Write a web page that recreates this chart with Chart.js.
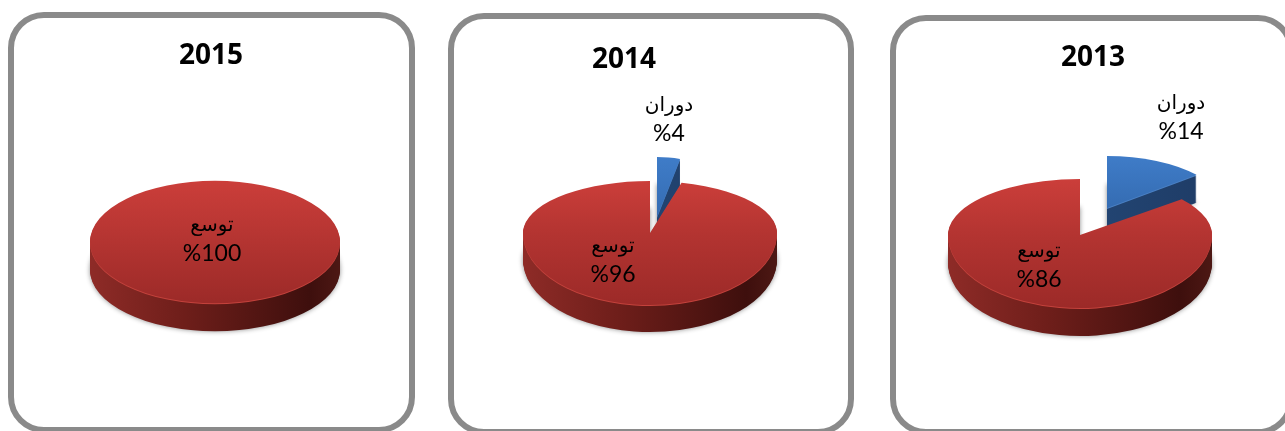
<!DOCTYPE html>
<html>
<head>
<meta charset="utf-8">
<script src="https://cdn.jsdelivr.net/npm/chart.js@4/dist/chart.umd.min.js"></script>
<style>
    html, body { margin: 0; width: 1285px; height: 431px; overflow: hidden; background: #fff; }
    .marco { position: absolute; box-sizing: border-box; border: 6px solid #8a8a8a; border-radius: 36px; background: #fff; }
    canvas { position: absolute; }
</style>
</head>
<body>
<div class="marco" style="left:8px;top:12px;width:407px;height:421px"></div>
<div class="marco" style="left:448px;top:13px;width:406px;height:422px"></div>
<div class="marco" style="left:890px;top:15px;width:404px;height:420px"></div>
<canvas id="pie2015" width="400" height="400" style="left:15px;top:42px;width:400px;height:400px"></canvas>
<canvas id="pie2014" width="400" height="400" style="left:450px;top:33px;width:400px;height:400px"></canvas>
<canvas id="pie2013" width="400" height="400" style="left:880px;top:35px;width:400px;height:400px"></canvas>

<script>
// Values
const categories = ['دوران', 'توسع'];
const values2015 = [0, 100];
const values2014 = [4, 96];
const values2013 = [14, 86];

// top face gradient, side gradient, one list per category
const faceColors = [['#3f7cc8', '#2a5c9c'], ['#cb3e3a', '#9c2a28']];
const sideColors = [
    ['#2a5488', '#234674', '#1f3d68', '#1d3a62'],
    ['#8e2b27', '#6e1e1a', '#3e0f0d', '#4d1814']
];
const rimColors = ['#4a80c4', '#c4423c'];

const TITLE_FONT = "bold 28px 'Open Sans', sans-serif";
const NAME_FONT = "20px 'DejaVu Sans', sans-serif";
const VALUE_FONT = "23px 'Lato', sans-serif";

// Draws one arc squashed into an ellipse, the near half deeper than the far half (fake perspective)
function paintArc(chart, arc, slice, fill, dy) {
    const ctx = chart.ctx;
    const cx = arc.x, cy = arc.y;
    const original = arc.options;
    arc.options = Object.assign({}, original, { backgroundColor: fill, borderWidth: 0 });

    [[0, cy, slice.far], [cy, chart.height, slice.near]].forEach(([from, to, squash]) => {
        ctx.save();
        ctx.translate(slice.dx, slice.dy + dy);
        ctx.beginPath();
        ctx.rect(-40, from, chart.width + 80, to - from);
        ctx.clip();
        ctx.translate(cx, cy);
        ctx.scale(slice.wide, squash);
        ctx.translate(-cx, -cy);
        arc.draw(ctx);
        ctx.restore();
    });
    arc.options = original;
}

const tiltPie = {
    id: 'tiltPie',
    beforeDatasetsDraw(chart) {
        const ctx = chart.ctx;
        const cfg = chart.options.plugins.tiltPie;
        const arcs = chart.getDatasetMeta(0).data;

        arcs.forEach((arc, i) => {
            if (arc.circumference === 0) return;
            const slice = cfg.slices[i];
            const R = arc.outerRadius;

            const side = ctx.createLinearGradient(arc.x - R, 0, arc.x + R, 0);
            side.addColorStop(0, sideColors[i][0]);
            side.addColorStop(0.38, sideColors[i][1]);
            side.addColorStop(0.88, sideColors[i][2]);
            side.addColorStop(1, sideColors[i][3]);

            const face = ctx.createLinearGradient(0, arc.y - R, 0, arc.y + R);
            face.addColorStop(0, faceColors[i][0]);
            face.addColorStop(1, faceColors[i][1]);

            // soft shadow under the deepest layer
            ctx.save();
            ctx.shadowColor = 'rgba(0,0,0,0.45)';
            ctx.shadowBlur = 5;
            paintArc(chart, arc, slice, side, cfg.depth);
            ctx.restore();

            for (let d = cfg.depth - 1; d > 1; d--) {
                paintArc(chart, arc, slice, side, d);
            }
            paintArc(chart, arc, slice, rimColors[i], 1);
            paintArc(chart, arc, slice, face, 0);
        });
        return false;
    },
    afterDraw(chart) {
        const ctx = chart.ctx;
        const cfg = chart.options.plugins.tiltPie;
        const left = chart.canvas.offsetLeft;
        const top = chart.canvas.offsetTop;
        const values = chart.data.datasets[0].data;

        ctx.save();
        ctx.fillStyle = '#000';
        ctx.textAlign = 'center';
        ctx.textBaseline = 'middle';

        ctx.font = TITLE_FONT;
        ctx.fillText(cfg.year, cfg.yearAt[0] - left, cfg.yearAt[1] - top);

        values.forEach((v, i) => {
            if (!v) return;
            const p = cfg.labelAt[i];
            ctx.font = NAME_FONT;
            ctx.fillText(chart.data.labels[i], p[0] - left, p[1] - top);
            ctx.font = VALUE_FONT;
            ctx.fillText('%' + v, p[0] - left, p[1] + 28 - top);
        });
        ctx.restore();
    }
};

function crearPie(id, values, radius, opts) {
    new Chart(document.getElementById(id), {
        type: 'pie',
        data: {
            labels: categories,
            datasets: [{ data: values, radius: radius, borderWidth: 0, backgroundColor: ['#3468ac', '#b23230'] }]
        },
        plugins: [tiltPie],
        options: {
            responsive: false,
            animation: false,
            events: [],
            layout: { padding: 0 },
            plugins: { legend: { display: false }, tooltip: { enabled: false }, title: { display: false }, tiltPie: opts }
        }
    });
}

crearPie('pie2015', values2015, 125, {
    year: '2015', yearAt: [211, 56], depth: 28,
    labelAt: [[0, 0], [212, 226]],
    slices: [
        { dx: 0, dy: 0, wide: 1, far: 0.49, near: 0.49 },
        { dx: 0, dy: 0, wide: 1, far: 0.49, near: 0.49 }
    ]
});

crearPie('pie2014', values2014, 127, {
    year: '2014', yearAt: [624, 60], depth: 27,
    labelAt: [[669, 106], [613, 247]],
    slices: [
        { dx: 7, dy: -16, wide: 0.73, far: 0.472, near: 0.55 },
        { dx: 0, dy: 0, wide: 1, far: 0.409, near: 0.567 }
    ]
});

crearPie('pie2013', values2013, 132, {
    year: '2013', yearAt: [1093, 58], depth: 28,
    labelAt: [[1181, 104], [1039, 252]],
    slices: [
        { dx: 27, dy: -27, wide: 0.88, far: 0.394, near: 0.55 },
        { dx: 0, dy: 0, wide: 1, far: 0.424, near: 0.553 }
    ]
});
</script>
</body>
</html>
